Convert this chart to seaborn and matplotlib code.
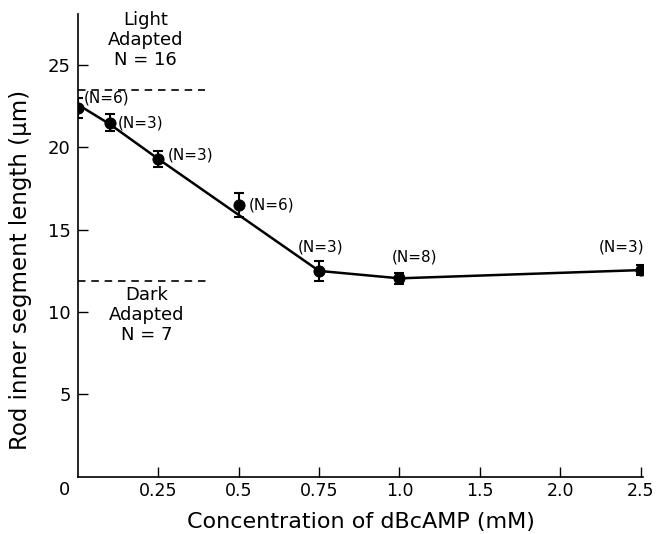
import matplotlib
matplotlib.use("Agg")
import matplotlib.pyplot as plt
import seaborn as sns
import pandas as pd
import numpy as np

# Data (x positions on an evenly spaced categorical-like axis)
tick_labels = ["0.25", "0.5", "0.75", "1.0", "1.5", "2.0", "2.5"]
tick_pos = [1, 2, 3, 4, 5, 6, 7]
conc_pos = [0.0, 0.4, 1.0, 2.0, 3.0, 4.0, 7.0]      # 0, 0.1, 0.25, 0.5, 0.75, 1.0, 2.5 mM
length_mean = [22.4, 21.5, 19.3, 16.5, 12.5, 12.05, 12.55]
length_err = [0.6, 0.5, 0.5, 0.7, 0.6, 0.35, 0.3]
line_fit = [22.6, 21.4, 19.3, 15.9, 12.5, 12.05, 12.55]
n_labels = ["(N=6)", "(N=3)", "(N=3)", "(N=6)", "(N=3)", "(N=8)", "(N=3)"]
light_adapted = 23.5
dark_adapted = 11.9

df = pd.DataFrame({"x": conc_pos, "y": length_mean, "fit": line_fit})

sns.set_style("ticks")
plt.rcParams["font.family"] = ["DejaVu Sans"]
plt.rcParams["text.color"] = "black"
plt.rcParams["axes.labelcolor"] = "black"
plt.rcParams["xtick.color"] = "black"
plt.rcParams["ytick.color"] = "black"

fig = plt.figure(figsize=(6.59, 5.34), dpi=100)
ax = fig.add_axes([0.118, 0.107, 0.858, 0.867])

sns.lineplot(data=df, x="x", y="fit", ax=ax, color="black", lw=1.8)
ax.errorbar(conc_pos, length_mean, yerr=length_err, fmt="none", ecolor="black",
            elinewidth=1.5, capsize=3.5, capthick=1.5)
sns.scatterplot(data=df, x="x", y="y", ax=ax, color="black", s=65, edgecolor="black", zorder=5)

# N labels (offsets in data units)
offsets = [(0.07, 0.6, "left"), (0.1, 0.0, "left"), (0.12, 0.25, "left"),
           (0.12, 0.0, "left"), (0.02, 1.45, "center"), (0.19, 1.3, "center"), (-0.24, 1.4, "center")]
for x, y, lab, (dx, dy, ha) in zip(conc_pos, length_mean, n_labels, offsets):
    ax.text(x + dx, y + dy, lab, fontsize=11, ha=ha, va="center")

# Reference dashed lines
ax.plot([0, 1.58], [light_adapted, light_adapted], ls=(0, (4.5, 3.5)), color="black", lw=1.2)
ax.plot([0, 1.6], [dark_adapted, dark_adapted], ls=(0, (4.5, 3.5)), color="black", lw=1.2)
ax.text(0.84, 28.3, "Light\nAdapted\nN = 16", fontsize=13, ha="center", va="top", linespacing=1.15)
ax.text(0.86, 11.6, "Dark\nAdapted\nN = 7", fontsize=13, ha="center", va="top", linespacing=1.15)

ax.set_xlim(0, 7.03)
ax.set_ylim(0, 28.1)
ax.set_xticks(tick_pos)
ax.set_xticklabels(tick_labels, fontsize=12.5)
ax.set_yticks([5, 10, 15, 20, 25])
ax.set_yticklabels(["5", "10", "15", "20", "25"], fontsize=13)
ax.tick_params(axis="both", direction="in", length=7, width=1.0, color="black")
ax.tick_params(axis="x", pad=4)
ax.tick_params(axis="y", pad=5)
ax.text(-0.16, -0.25, "0", fontsize=13, ha="center", va="top")
sns.despine(ax=ax)
for s in ["left", "bottom"]:
    ax.spines[s].set_linewidth(1.2)
    ax.spines[s].set_color("black")

ax.set_xlabel("Concentration of dBcAMP (mM)", fontsize=16, labelpad=8)
ax.set_ylabel("Rod inner segment length (\u03bcm)", fontsize=16.5)
ax.yaxis.set_label_coords(-0.081, 0.447)

fig.savefig("out.png", dpi=100, facecolor="white")
